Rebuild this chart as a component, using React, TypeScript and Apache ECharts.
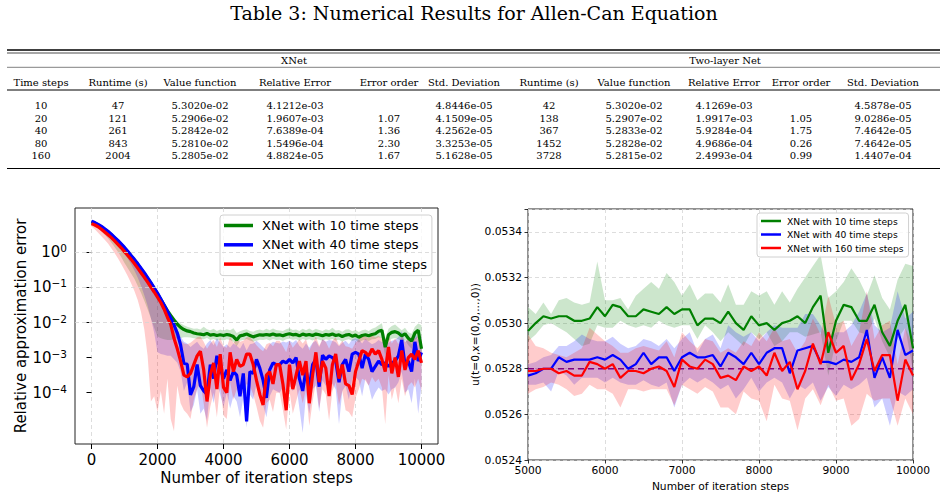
import React, { useEffect, useRef } from "react";
import * as echarts from "echarts";

// ---------------- Table data ----------------
const TITLE = "Table 3: Numerical Results for Allen-Can Equation";
const TABLE_GROUPS = ["XNet", "Two-layer Net"];
const TABLE_HEADERS = [
  "Time steps", "Runtime (s)", "Value function", "Relative Error", "Error order", "Std. Deviation",
  "Runtime (s)", "Value function", "Relative Error", "Error order", "Std. Deviation",
];
const TIME_STEPS = ["10", "20", "40", "80", "160"];
const XNET_RUNTIME = ["47", "121", "261", "843", "2004"];
const XNET_VALUE = ["5.3020e-02", "5.2906e-02", "5.2842e-02", "5.2810e-02", "5.2805e-02"];
const XNET_REL_ERROR = ["4.1212e-03", "1.9607e-03", "7.6389e-04", "1.5496e-04", "4.8824e-05"];
const XNET_ORDER = ["", "1.07", "1.36", "2.30", "1.67"];
const XNET_STD = ["4.8446e-05", "4.1509e-05", "4.2562e-05", "3.3253e-05", "5.1628e-05"];
const TWO_RUNTIME = ["42", "138", "367", "1452", "3728"];
const TWO_VALUE = ["5.3020e-02", "5.2907e-02", "5.2833e-02", "5.2828e-02", "5.2815e-02"];
const TWO_REL_ERROR = ["4.1269e-03", "1.9917e-03", "5.9284e-04", "4.9686e-04", "2.4993e-04"];
const TWO_ORDER = ["", "1.05", "1.75", "0.26", "0.99"];
const TWO_STD = ["4.5878e-05", "9.0286e-05", "7.4642e-05", "7.4642e-05", "1.4407e-04"];

// ---------------- Chart data ----------------
const SERIES_NAMES = ["XNet with 10 time steps", "XNet with 40 time steps", "XNet with 160 time steps"];

const STEPS_LEFT = [
  0, 100, 200, 300, 400, 500, 600, 700, 800, 900,
  1000, 1100, 1200, 1300, 1400, 1500, 1600, 1700, 1800, 1900,
  2000, 2100, 2200, 2300, 2400, 2500, 2600, 2700, 2800, 2900,
  3000, 3100, 3200, 3300, 3400, 3500, 3600, 3700, 3800, 3900,
  4000, 4100, 4200, 4300, 4400, 4500, 4600, 4700, 4800, 4900,
  5000, 5100, 5200, 5300, 5400, 5500, 5600, 5700, 5800, 5900,
  6000, 6100, 6200, 6300, 6400, 6500, 6600, 6700, 6800, 6900,
  7000, 7100, 7200, 7300, 7400, 7500, 7600, 7700, 7800, 7900,
  8000, 8100, 8200, 8300, 8400, 8500, 8600, 8700, 8800, 8900,
  9000, 9100, 9200, 9300, 9400, 9500, 9600, 9700, 9800, 9900,
  10000,
];
const LEFT_X_TICKS = [0, 2000, 4000, 6000, 8000, 10000];

// log10 of the relative approximation error
const LOG10_GREEN_MEAN = [
  0.87, 0.83, 0.78, 0.72, 0.65, 0.58, 0.50, 0.41, 0.32, 0.22,
  0.12, 0.01, -0.10, -0.22, -0.34, -0.47, -0.60, -0.74, -0.88, -1.03,
  -1.18, -1.34, -1.50, -1.66, -1.80, -1.93, -2.05, -2.14, -2.20, -2.24,
  -2.26, -2.30, -2.32, -2.33, -2.35, -2.31, -2.36, -2.34, -2.37, -2.35,
  -2.37, -2.34, -2.36, -2.40, -2.50, -2.38, -2.36, -2.33, -2.37, -2.41,
  -2.38, -2.35, -2.36, -2.34, -2.36, -2.33, -2.36, -2.35, -2.38, -2.34,
  -2.32, -2.35, -2.34, -2.38, -2.33, -2.36, -2.34, -2.37, -2.33, -2.35,
  -2.38, -2.34, -2.36, -2.33, -2.37, -2.35, -2.40, -2.36, -2.34, -2.39,
  -2.36, -2.42, -2.37, -2.35, -2.38, -2.34, -2.32, -2.25, -2.22, -2.70,
  -2.35, -2.28, -2.26, -2.30, -2.38, -2.32, -2.45, -2.53, -2.30, -2.22,
  -2.75,
];
const LOG10_GREEN_UPPER = [
  0.92, 0.88, 0.83, 0.77, 0.70, 0.63, 0.55, 0.46, 0.37, 0.27,
  0.17, 0.06, -0.05, -0.17, -0.29, -0.42, -0.55, -0.69, -0.83, -0.98,
  -1.13, -1.29, -1.45, -1.60, -1.74, -1.86, -1.96, -2.03, -2.08, -2.12,
  -2.15, -2.18, -2.17, -2.20, -2.12, -2.19, -2.22, -2.18, -2.24, -2.20,
  -2.23, -2.19, -2.22, -2.16, -2.30, -2.25, -2.21, -2.19, -2.24, -2.26,
  -2.22, -2.20, -2.23, -2.18, -2.22, -2.17, -2.21, -2.23, -2.24, -2.19,
  -2.16, -2.21, -2.20, -2.24, -2.18, -2.22, -2.17, -2.23, -2.18, -2.21,
  -2.24, -2.19, -2.22, -2.15, -2.23, -2.21, -2.26, -2.20, -2.19, -2.25,
  -2.21, -2.27, -2.22, -2.20, -2.24, -2.18, -2.14, -2.08, -2.02, -2.45,
  -2.18, -2.10, -2.06, -2.14, -2.22, -2.15, -2.28, -2.32, -2.12, -2.03,
  -2.08,
];
const LOG10_GREEN_LOWER = [
  0.80, 0.75, 0.68, 0.60, 0.50, 0.40, 0.28, 0.15, 0.02, -0.13,
  -0.30, -0.45, -0.60, -0.75, -0.95, -1.15, -1.38, -1.62, -1.88, -2.15,
  -2.40, -2.45, -2.48, -2.50, -2.50, -2.48, -2.45, -2.44, -2.42, -2.42,
  -2.43, -2.45, -2.46, -2.47, -2.48, -2.44, -2.50, -2.47, -2.51, -2.49,
  -2.51, -2.48, -2.50, -2.55, -2.68, -2.52, -2.50, -2.47, -2.51, -2.55,
  -2.52, -2.49, -2.50, -2.48, -2.51, -2.47, -2.50, -2.49, -2.53, -2.48,
  -2.46, -2.49, -2.48, -2.52, -2.47, -2.50, -2.48, -2.51, -2.47, -2.49,
  -2.52, -2.48, -2.50, -2.47, -2.51, -2.49, -2.55, -2.50, -2.48, -2.53,
  -2.50, -2.57, -2.51, -2.49, -2.53, -2.48, -2.47, -2.42, -2.45, -2.95,
  -2.52, -2.46, -2.44, -2.48, -2.56, -2.50, -2.65, -2.75, -2.50, -2.42,
  -3.05,
];
const LOG10_BLUE_MEAN = [
  0.89, 0.85, 0.80, 0.74, 0.67, 0.60, 0.52, 0.43, 0.34, 0.24,
  0.14, 0.03, -0.09, -0.20, -0.32, -0.45, -0.58, -0.72, -0.86, -1.01,
  -1.16, -1.33, -1.50, -1.68, -1.87, -2.07, -2.30, -2.64, -3.16, -3.19,
  -4.06, -3.83, -3.20, -3.80, -3.95, -4.05, -3.20, -3.60, -2.95, -3.30,
  -3.60, -3.35, -3.65, -3.40, -3.50, -4.10, -3.45, -4.82, -3.40, -3.45,
  -3.05, -3.30, -3.65, -4.15, -3.35, -3.15, -3.20, -3.20, -3.10, -3.15,
  -3.05, -3.15, -3.00, -3.60, -3.95, -3.35, -3.85, -3.20, -3.05, -3.83,
  -2.93, -3.05, -2.95, -3.00, -3.10, -3.70, -3.20, -3.05, -3.40, -2.90,
  -2.85, -2.90, -3.30, -2.90, -3.05, -3.40, -3.25, -3.10, -3.20, -3.15,
  -3.25, -3.15, -3.10, -2.95, -2.50, -3.20, -3.10, -3.40, -2.55, -3.10,
  -2.85,
];
const LOG10_BLUE_UPPER = [
  0.93, 0.89, 0.84, 0.78, 0.71, 0.64, 0.56, 0.47, 0.38, 0.28,
  0.18, 0.07, -0.05, -0.16, -0.28, -0.41, -0.54, -0.68, -0.82, -0.97,
  -1.12, -1.29, -1.46, -1.63, -1.82, -2.00, -2.20, -2.40, -2.55, -2.60,
  -2.70, -2.62, -2.55, -2.68, -2.75, -2.60, -2.50, -2.65, -2.45, -2.58,
  -2.70, -2.62, -2.72, -2.60, -2.66, -2.75, -2.58, -2.80, -2.62, -2.60,
  -2.52, -2.60, -2.70, -2.78, -2.62, -2.55, -2.58, -2.60, -2.54, -2.57,
  -2.52, -2.58, -2.50, -2.66, -2.75, -2.60, -2.72, -2.58, -2.52, -2.70,
  -2.48, -2.55, -2.50, -2.52, -2.56, -2.68, -2.58, -2.52, -2.62, -2.48,
  -2.45, -2.48, -2.60, -2.46, -2.55, -2.62, -2.58, -2.50, -2.56, -2.52,
  -2.58, -2.52, -2.50, -2.42, -2.25, -2.55, -2.50, -2.62, -2.28, -2.50,
  -2.42,
];
const LOG10_BLUE_LOWER = [
  0.85, 0.80, 0.74, 0.67, 0.59, 0.51, 0.42, 0.32, 0.21, 0.09,
  -0.04, -0.18, -0.34, -0.52, -0.72, -0.95, -1.22, -1.52, -1.88, -2.30,
  -2.85, -2.90, -2.92, -2.95, -2.95, -3.05, -3.15, -3.40, -3.95, -3.70,
  -4.55, -4.35, -3.90, -4.60, -4.45, -4.80, -3.85, -4.30, -3.70, -4.05,
  -4.40, -4.00, -4.45, -4.10, -4.25, -4.70, -4.15, -5.00, -4.05, -4.20,
  -3.75, -4.05, -4.35, -4.70, -4.10, -3.90, -3.95, -4.00, -3.85, -3.95,
  -3.80, -3.95, -3.75, -4.45, -5.15, -4.05, -4.60, -3.90, -3.80, -4.55,
  -3.65, -3.80, -3.70, -3.75, -3.90, -4.90, -3.95, -3.80, -4.20, -3.60,
  -3.55, -3.65, -4.10, -3.60, -3.80, -4.20, -4.00, -3.85, -3.95, -3.90,
  -4.05, -3.90, -3.85, -3.70, -3.40, -4.00, -3.90, -4.30, -3.60, -4.60,
  -3.80,
];
const LOG10_RED_MEAN = [
  0.82, 0.78, 0.73, 0.66, 0.58, 0.50, 0.42, 0.33, 0.23, 0.13,
  0.02, -0.09, -0.20, -0.32, -0.45, -0.58, -0.71, -0.85, -0.99, -1.13,
  -1.28, -1.43, -1.62, -1.85, -2.05, -2.45, -2.75, -3.10, -3.50, -3.55,
  -3.45, -3.20, -2.95, -2.82, -3.35, -4.25, -3.50, -3.15, -3.90, -2.90,
  -3.85, -4.00, -2.85, -3.40, -3.05, -3.25, -3.20, -2.90, -2.90, -3.20,
  -3.65, -4.05, -4.35, -3.50, -3.40, -3.75, -3.20, -3.20, -3.75, -4.50,
  -3.20, -3.90, -3.50, -3.10, -3.50, -3.10, -4.30, -3.50, -2.85, -3.70,
  -3.10, -3.30, -4.10, -3.20, -2.90, -3.60, -3.20, -3.75, -3.80, -4.05,
  -3.40, -3.10, -2.80, -2.85, -2.95, -2.75, -2.90, -2.80, -3.05, -3.40,
  -2.70, -3.45, -3.00, -3.55, -2.80, -3.35, -3.00, -2.90, -3.05, -2.80,
  -3.15,
];
const LOG10_RED_UPPER = [
  0.88, 0.84, 0.79, 0.72, 0.64, 0.56, 0.48, 0.39, 0.29, 0.19,
  0.08, -0.03, -0.14, -0.26, -0.39, -0.52, -0.65, -0.79, -0.93, -1.07,
  -1.22, -1.37, -1.55, -1.75, -1.92, -2.15, -2.35, -2.50, -2.60, -2.62,
  -2.58, -2.50, -2.42, -2.40, -2.55, -2.75, -2.60, -2.50, -2.70, -2.42,
  -2.68, -2.72, -2.40, -2.58, -2.48, -2.55, -2.52, -2.42, -2.42, -2.52,
  -2.65, -2.75, -2.82, -2.62, -2.58, -2.68, -2.52, -2.52, -2.68, -2.85,
  -2.52, -2.72, -2.60, -2.48, -2.60, -2.48, -2.80, -2.60, -2.40, -2.66,
  -2.48, -2.55, -2.75, -2.52, -2.42, -2.65, -2.52, -2.68, -2.70, -2.75,
  -2.58, -2.48, -2.38, -2.40, -2.44, -2.36, -2.42, -2.38, -2.46, -2.58,
  -2.34, -2.60, -2.45, -2.62, -2.38, -2.56, -2.45, -2.42, -2.46, -2.38,
  -2.50,
];
const LOG10_RED_LOWER = [
  0.74, 0.66, 0.56, 0.46, 0.36, 0.25, 0.12, -0.02, -0.17, -0.33,
  -0.50, -0.68, -0.88, -1.10, -1.36, -1.70, -2.20, -2.95, -4.25, -4.10,
  -4.55, -3.95, -4.60, -3.60, -4.75, -5.10, -3.80, -4.30, -4.50, -4.60,
  -4.75, -4.20, -3.90, -3.70, -4.30, -5.00, -4.40, -4.00, -4.70, -3.75,
  -4.65, -4.75, -3.70, -4.20, -3.90, -4.10, -4.00, -3.75, -3.80, -4.05,
  -4.40, -4.80, -5.00, -4.30, -4.20, -4.55, -4.00, -4.00, -4.50, -5.05,
  -3.95, -4.60, -4.25, -3.90, -4.30, -3.90, -4.95, -4.25, -3.70, -4.45,
  -3.90, -4.05, -4.80, -3.95, -3.70, -4.35, -3.95, -4.50, -4.55, -4.70,
  -4.15, -3.90, -3.60, -3.65, -3.80, -3.55, -3.70, -3.60, -3.85, -4.90,
  -3.50, -4.20, -3.80, -4.30, -3.60, -4.10, -3.80, -3.70, -3.85, -3.60,
  -3.95,
];
const LEFT_GRID_DECADES = [1, 0.1, 0.01, 0.001, 0.0001];

const STEPS_RIGHT = [
  5000, 5100, 5200, 5300, 5400, 5500, 5600, 5700, 5800, 5900,
  6000, 6100, 6200, 6300, 6400, 6500, 6600, 6700, 6800, 6900,
  7000, 7100, 7200, 7300, 7400, 7500, 7600, 7700, 7800, 7900,
  8000, 8100, 8200, 8300, 8400, 8500, 8600, 8700, 8800, 8900,
  9000, 9100, 9200, 9300, 9400, 9500, 9600, 9700, 9800, 9900,
  10000,
];
const U_GREEN_MEAN = [
  0.052965, 0.05300, 0.05303, 0.05302, 0.05303, 0.05303, 0.05301, 0.05301, 0.05302, 0.05307,
  0.05303, 0.05308, 0.05307, 0.05303, 0.05303, 0.05306, 0.05305, 0.05304, 0.05307, 0.05304,
  0.05306, 0.05306, 0.05299, 0.05302, 0.05302, 0.05300, 0.05305, 0.05300, 0.05297, 0.05303,
  0.05299, 0.05300, 0.05297, 0.05300, 0.05301, 0.05303, 0.05300, 0.05307, 0.05312, 0.05287,
  0.05301, 0.05308, 0.05307, 0.05301, 0.05301, 0.05308, 0.05296, 0.05290, 0.05301, 0.05308,
  0.05289,
];
const U_GREEN_UPPER = [
  0.05307, 0.05304, 0.05309, 0.05304, 0.05310, 0.05311, 0.05309, 0.05308, 0.05309, 0.05327,
  0.05310, 0.05310, 0.05311, 0.05306, 0.05312, 0.05315, 0.05318, 0.05315, 0.05322, 0.05318,
  0.05312, 0.05317, 0.05310, 0.05313, 0.05313, 0.05309, 0.05317, 0.05308, 0.05308, 0.05314,
  0.05312, 0.05314, 0.05308, 0.05314, 0.05309, 0.05315, 0.05320, 0.05325, 0.05330, 0.05311,
  0.05314, 0.05318, 0.05324, 0.05319, 0.05312, 0.05321, 0.05311, 0.05306, 0.05319, 0.05326,
  0.05325,
];
const U_GREEN_LOWER = [
  0.05292, 0.05295, 0.05299, 0.05300, 0.05298, 0.05296, 0.05293, 0.05290, 0.05291, 0.05299,
  0.05298, 0.05298, 0.05301, 0.05299, 0.05298, 0.05299, 0.05298, 0.05301, 0.05299, 0.05298,
  0.05299, 0.05299, 0.05293, 0.05299, 0.05296, 0.05292, 0.05296, 0.05293, 0.05290, 0.05296,
  0.05293, 0.05296, 0.05290, 0.05292, 0.05296, 0.05296, 0.05294, 0.05295, 0.05296, 0.05277,
  0.05292, 0.05301, 0.05301, 0.05296, 0.05295, 0.05302, 0.05292, 0.05285, 0.05293, 0.05298,
  0.05279,
];
const U_BLUE_MEAN = [
  0.05277, 0.05278, 0.05280, 0.05280, 0.05285, 0.05283, 0.05284, 0.05284, 0.05284, 0.05285,
  0.05284, 0.05286, 0.05284, 0.05280, 0.05282, 0.05287, 0.05282, 0.05285, 0.05285, 0.05279,
  0.05285, 0.05287, 0.05285, 0.05285, 0.05286, 0.05281, 0.05287, 0.05285, 0.05282, 0.05287,
  0.05282, 0.05287, 0.05289, 0.05289, 0.05278, 0.05288, 0.05289, 0.05290, 0.05283, 0.05283,
  0.05282, 0.05284, 0.05283, 0.05285, 0.05297, 0.05276, 0.05285, 0.05276, 0.05297, 0.05286,
  0.05288,
];
const U_BLUE_UPPER = [
  0.05282, 0.05283, 0.05285, 0.05286, 0.05290, 0.05290, 0.05292, 0.05295, 0.05293, 0.05292,
  0.05292, 0.05294, 0.05291, 0.05289, 0.05290, 0.05293, 0.05292, 0.05290, 0.05293, 0.05289,
  0.05293, 0.05296, 0.05287, 0.05293, 0.05295, 0.05289, 0.05299, 0.05296, 0.05294, 0.05296,
  0.05292, 0.05296, 0.05299, 0.05298, 0.05298, 0.05298, 0.05304, 0.05304, 0.05299, 0.05293,
  0.05296, 0.05296, 0.05299, 0.05305, 0.05313, 0.05299, 0.05296, 0.05298, 0.05314, 0.05302,
  0.05305,
];
const U_BLUE_LOWER = [
  0.05273, 0.05273, 0.05274, 0.05270, 0.05279, 0.05277, 0.05273, 0.05276, 0.05276, 0.05276,
  0.05274, 0.05276, 0.05274, 0.05273, 0.05273, 0.05275, 0.05273, 0.05272, 0.05274, 0.05263,
  0.05273, 0.05276, 0.05274, 0.05276, 0.05274, 0.05271, 0.05273, 0.05267, 0.05271, 0.05276,
  0.05270, 0.05274, 0.05276, 0.05274, 0.05267, 0.05273, 0.05271, 0.05274, 0.05266, 0.05272,
  0.05268, 0.05273, 0.05271, 0.05273, 0.05276, 0.05263, 0.05267, 0.05255, 0.05270, 0.05268,
  0.05271,
];
const U_RED_MEAN = [
  0.05279, 0.05279, 0.05280, 0.05280, 0.05278, 0.05279, 0.05277, 0.05277, 0.05283, 0.05282,
  0.05280, 0.05282, 0.05276, 0.05279, 0.05279, 0.05278, 0.05280, 0.05281, 0.05279, 0.05272,
  0.05284, 0.05281, 0.05280, 0.05284, 0.05282, 0.05276, 0.05277, 0.05275, 0.05281, 0.05279,
  0.05281, 0.05277, 0.05287, 0.05279, 0.05283, 0.05271, 0.05279, 0.05291, 0.05282, 0.05296,
  0.05287, 0.05290, 0.05275, 0.05282, 0.05293, 0.05279, 0.05286, 0.05286, 0.05266, 0.05284,
  0.05277,
];
const U_RED_UPPER = [
  0.05295, 0.05290, 0.05289, 0.05287, 0.05286, 0.05285, 0.05287, 0.05289, 0.05298, 0.05295,
  0.05292, 0.05290, 0.05287, 0.05287, 0.05289, 0.05290, 0.05289, 0.05288, 0.05292, 0.05285,
  0.05296, 0.05292, 0.05289, 0.05293, 0.05292, 0.05287, 0.05289, 0.05287, 0.05292, 0.05290,
  0.05296, 0.05292, 0.05298, 0.05292, 0.05293, 0.05287, 0.05292, 0.05302, 0.05295, 0.05312,
  0.05299, 0.05301, 0.05290, 0.05296, 0.05314, 0.05293, 0.05299, 0.05301, 0.05282, 0.05298,
  0.05290,
];
const U_RED_LOWER = [
  0.05269, 0.05271, 0.05272, 0.05274, 0.05273, 0.05271, 0.05268, 0.05269, 0.05273, 0.05271,
  0.05271, 0.05269, 0.05263, 0.05271, 0.05271, 0.05270, 0.05271, 0.05271, 0.05271, 0.05264,
  0.05273, 0.05271, 0.05269, 0.05272, 0.05270, 0.05263, 0.05263, 0.05260, 0.05270, 0.05267,
  0.05266, 0.05257, 0.05273, 0.05267, 0.05266, 0.05253, 0.05267, 0.05271, 0.05264, 0.05273,
  0.05266, 0.05267, 0.05255, 0.05258, 0.05269, 0.05266, 0.05267, 0.05267, 0.05255, 0.05267,
  0.05260,
];
const REFERENCE_VALUE = 0.0528;
const REFERENCE_SPAN = [5000, 10000];

// ---------------- Styling ----------------
const SANS = "DejaVu Sans";
const SERIF = "DejaVu Serif";
const LINE_COLORS = ["#008000", "#0000ff", "#ff0000"];
const BAND_COLORS = ["rgba(0,128,0,0.2)", "rgba(0,0,255,0.2)", "rgba(255,0,0,0.2)"];
const GRID_LINE = { type: [4, 3] as any, color: "#d4d4d4", width: 0.8 };

const fromLog = (arr: number[]) => arr.map((e) => Math.pow(10, e));

// Shaded band between lower and upper, drawn as one polygon through the axes' own scales.
function band(id: string, xs: number[], lower: number[], upper: number[], color: string, idx: number): any {
  return {
    type: "custom",
    name: id,
    xAxisIndex: idx,
    yAxisIndex: idx,
    z: 1,
    silent: true,
    data: xs.map((x, i) => [x, lower[i], upper[i]]),
    encode: { x: 0, y: [1, 2] },
    renderItem: (params: any, api: any) => {
      if (params.dataIndex !== 0) return null;
      const top = xs.map((x, i) => api.coord([x, upper[i]]));
      const bottom = xs.map((x, i) => api.coord([x, lower[i]])).reverse();
      const cs = params.coordSys;
      return {
        type: "polygon",
        silent: true,
        shape: { points: top.concat(bottom) },
        style: { fill: color, stroke: null },
        clipPath: { type: "rect", shape: { x: cs.x, y: cs.y, width: cs.width, height: cs.height } },
      };
    },
  };
}

function meanLine(name: string, xs: number[], ys: number[], color: string, idx: number, width: number): any {
  return {
    type: "line",
    name,
    xAxisIndex: idx,
    yAxisIndex: idx,
    data: xs.map((x, i) => [x, ys[i]]),
    symbol: "none",
    z: 3,
    color,
    itemStyle: { color },
    lineStyle: { color, width },
    emphasis: { disabled: true },
  };
}

function tableGraphics(): any[] {
  const els: any[] = [];
  const colX = [41, 118, 200, 295, 389, 464, 549, 634, 724, 801, 883];
  const rowY = [105.7, 118.2, 130.7, 143.2, 155.7];
  const txt = (text: string, x: number, y: number, size: number) => ({
    type: "text",
    silent: true,
    style: {
      text,
      x,
      y,
      fill: "#000",
      font: `${size}px "${SERIF}"`,
      textAlign: "center",
      textVerticalAlign: "middle",
    },
  });
  const rule = (y: number, w: number) => ({
    type: "line",
    silent: true,
    shape: { x1: 7, y1: y, x2: 940, y2: y },
    style: { stroke: "#000", lineWidth: w },
  });
  els.push(rule(50, 1.3), rule(53, 0.7), rule(67.3, 0.5), rule(90, 1.2), rule(168.5, 1.2));
  els.push(txt(TABLE_GROUPS[0], 294, 60.6, 10), txt(TABLE_GROUPS[1], 725, 60.6, 10));
  TABLE_HEADERS.forEach((h, i) => els.push(txt(h, colX[i], 82, 10)));
  const cols = [
    TIME_STEPS, XNET_RUNTIME, XNET_VALUE, XNET_REL_ERROR, XNET_ORDER, XNET_STD,
    TWO_RUNTIME, TWO_VALUE, TWO_REL_ERROR, TWO_ORDER, TWO_STD,
  ];
  cols.forEach((col, c) =>
    col.forEach((v, r) => {
      if (v) els.push(txt(v, colX[c], rowY[r], 10));
    })
  );
  return els;
}

function buildOption(): any {
  const leftLow = [LOG10_GREEN_LOWER, LOG10_BLUE_LOWER, LOG10_RED_LOWER].map(fromLog);
  const leftUp = [LOG10_GREEN_UPPER, LOG10_BLUE_UPPER, LOG10_RED_UPPER].map(fromLog);
  const leftMean = [LOG10_GREEN_MEAN, LOG10_BLUE_MEAN, LOG10_RED_MEAN].map(fromLog);
  const rightLow = [U_GREEN_LOWER, U_BLUE_LOWER, U_RED_LOWER];
  const rightUp = [U_GREEN_UPPER, U_BLUE_UPPER, U_RED_UPPER];
  const rightMean = [U_GREEN_MEAN, U_BLUE_MEAN, U_RED_MEAN];

  const series: any[] = [];
  for (let k = 0; k < 3; k++) {
    series.push(band("band-left-" + k, STEPS_LEFT, leftLow[k], leftUp[k], BAND_COLORS[k], 0));
    series.push(band("band-right-" + k, STEPS_RIGHT, rightLow[k], rightUp[k], BAND_COLORS[k], 1));
  }
  // grid lines of the log axis (only the labelled decades), carried by an invisible helper series
  series.push({
    type: "line",
    name: "left-decades",
    xAxisIndex: 0,
    yAxisIndex: 0,
    data: STEPS_LEFT.map((x, i) => [x, leftMean[0][i]]),
    symbol: "none",
    lineStyle: { opacity: 0, width: 0 },
    z: 2,
    silent: true,
    emphasis: { disabled: true },
    markLine: {
      silent: true,
      symbol: "none",
      label: { show: false },
      lineStyle: GRID_LINE,
      data: LEFT_GRID_DECADES.map((v) => ({ yAxis: v })),
    },
  });
  // reference value line (dashed purple)
  series.push({
    type: "line",
    name: "reference",
    xAxisIndex: 1,
    yAxisIndex: 1,
    data: REFERENCE_SPAN.map((x) => [x, REFERENCE_VALUE]),
    symbol: "none",
    z: 2,
    silent: true,
    emphasis: { disabled: true },
    lineStyle: { type: [6, 4], color: "#800080", width: 1.5 },
  });
  for (let k = 0; k < 3; k++) {
    series.push(meanLine(SERIES_NAMES[k], STEPS_LEFT, leftMean[k], LINE_COLORS[k], 0, 3.2));
    series.push(meanLine(SERIES_NAMES[k], STEPS_RIGHT, rightMean[k], LINE_COLORS[k], 1, 2.2));
  }

  const supRich = {
    sup: { fontSize: 10.5, fontFamily: SANS, color: "#000", padding: [0, 0, 8, 0] },
  };

  return {
    animation: false,
    backgroundColor: "#ffffff",
    title: {
      text: TITLE,
      left: "center",
      top: 3,
      padding: 0,
      textStyle: { fontFamily: SERIF, fontSize: 19, fontWeight: "normal", color: "#000" },
    },
    graphic: tableGraphics(),
    grid: [
      { left: 75, top: 208, width: 363, height: 236, show: true, borderColor: "#222", borderWidth: 1, outerBoundsMode: "none", containLabel: false },
      { left: 528, top: 209, width: 385, height: 251, show: true, borderColor: "#222", borderWidth: 1, outerBoundsMode: "none", containLabel: false },
    ],
    legend: [
      {
        data: SERIES_NAMES,
        orient: "vertical",
        left: 220,
        top: 215,
        padding: [3, 5, 4, 4],
        itemGap: 4.3,
        itemWidth: 29,
        itemHeight: 3.5,
        icon: "rect",
        selectedMode: false,
        backgroundColor: "rgba(255,255,255,0.8)",
        borderColor: "#d0d0d0",
        borderWidth: 1,
        borderRadius: 3,
        textStyle: { fontFamily: SANS, fontSize: 13, color: "#000", lineHeight: 15, padding: [0, 0, 0, 4] },
      },
      {
        data: SERIES_NAMES,
        orient: "vertical",
        left: 757,
        top: 213,
        padding: [3, 5, 4, 4],
        itemGap: 3.5,
        itemWidth: 20,
        itemHeight: 2.5,
        icon: "rect",
        selectedMode: false,
        backgroundColor: "rgba(255,255,255,0.8)",
        borderColor: "#d0d0d0",
        borderWidth: 1,
        borderRadius: 3,
        textStyle: { fontFamily: SANS, fontSize: 9.2, color: "#000", lineHeight: 10, padding: [0, 0, 0, 1] },
      },
    ],
    xAxis: [
      {
        type: "value",
        gridIndex: 0,
        min: -500,
        max: 10500,
        axisLine: { show: false },
        axisTick: { show: true, length: 5, customValues: LEFT_X_TICKS, lineStyle: { color: "#000", width: 1 } },
        splitLine: { show: true, lineStyle: GRID_LINE },
        axisLabel: {
          margin: 8,
          color: "#000",
          fontFamily: SANS,
          fontSize: 15,
          customValues: LEFT_X_TICKS,
          formatter: (v: number) => (v >= 0 && v % 2000 === 0 ? String(v) : ""),
        },
        name: "Number of iteration steps",
        nameLocation: "middle",
        nameGap: 26,
        nameTextStyle: { fontFamily: SANS, fontSize: 15, color: "#000" },
      },
      {
        type: "value",
        gridIndex: 1,
        min: 5000,
        max: 10000,
        interval: 1000,
        axisLine: { show: false },
        axisTick: { show: true, length: 3.5, lineStyle: { color: "#000", width: 0.8 } },
        splitLine: { show: true, lineStyle: GRID_LINE },
        axisLabel: {
          margin: 5,
          color: "#000",
          fontFamily: SANS,
          fontSize: 10.7,
          formatter: (v: number) => String(v),
        },
        name: "Number of iteration steps",
        nameLocation: "middle",
        nameGap: 18,
        nameTextStyle: { fontFamily: SANS, fontSize: 10.7, color: "#000" },
      },
    ],
    yAxis: [
      {
        type: "log",
        logBase: 10,
        gridIndex: 0,
        min: 3.44e-6,
        max: 18.4,
        axisLine: { show: false },
        axisTick: { show: true, length: 5, customValues: LEFT_GRID_DECADES, lineStyle: { color: "#000", width: 1 } },
        splitLine: { show: false },
        minorTick: { show: false },
        axisLabel: {
          margin: 8,
          color: "#000",
          fontFamily: SANS,
          fontSize: 15,
          rich: supRich,
          customValues: LEFT_GRID_DECADES,
          formatter: (v: number) => {
            const e = Math.round(Math.log10(v));
            if (Math.abs(Math.log10(v) - e) > 0.01 || e > 0 || e < -4) return "";
            return "10{sup|" + (e === 0 ? "0" : "\u2212" + -e) + "}";
          },
        },
        name: "Relative approximation error",
        nameLocation: "middle",
        nameGap: 47,
        nameTextStyle: { fontFamily: SANS, fontSize: 15, color: "#000" },
      },
      {
        type: "value",
        gridIndex: 1,
        min: 0.0524,
        max: 0.0535,
        interval: 0.0002,
        axisLine: { show: false },
        axisTick: { show: true, length: 3.5, lineStyle: { color: "#000", width: 0.8 } },
        splitLine: { show: true, lineStyle: GRID_LINE },
        axisLabel: {
          margin: 6,
          color: "#000",
          fontFamily: SANS,
          fontSize: 10.7,
          formatter: (v: number) => (v > 0.05345 ? "" : v.toFixed(4)),
        },
        name: "u(t=0,x=(0,0,...,0))",
        nameLocation: "middle",
        nameGap: 46,
        nameTextStyle: { fontFamily: SANS, fontSize: 10.7, color: "#000" },
      },
    ],
    series,
  };
}

export default function App() {
  const ref = useRef<HTMLDivElement>(null);
  useEffect(() => {
    document.body.style.margin = "0";
    const chart = echarts.init(ref.current as HTMLDivElement, null, { renderer: "svg" });
    chart.setOption(buildOption());
    return () => chart.dispose();
  }, []);
  return (
    <div
      ref={ref}
      style={{ position: "absolute", left: 0, top: 0, width: 948, height: 496, background: "#fff" }}
    />
  );
}
